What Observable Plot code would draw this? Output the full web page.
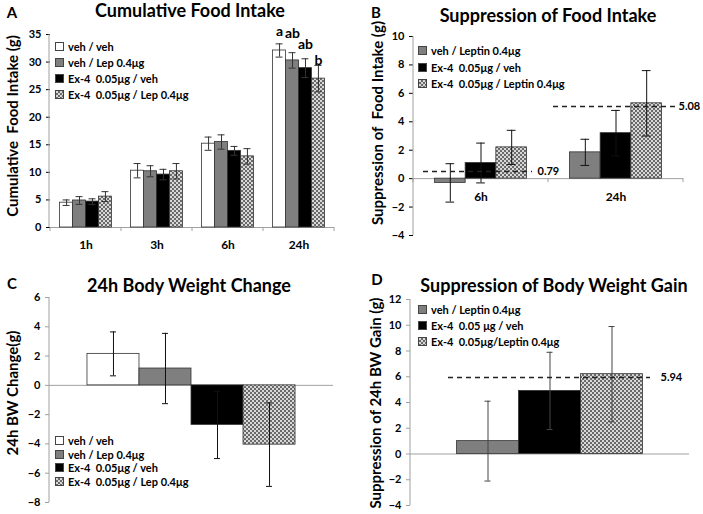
<!DOCTYPE html>
<html><head><meta charset="utf-8">
<script src="https://cdn.jsdelivr.net/npm/d3@7"></script>
<script src="https://cdn.jsdelivr.net/npm/@observablehq/plot@0.6"></script>
<style>
body{margin:0;background:#fff;}
#root{position:relative;width:703px;height:514px;overflow:hidden;font-family:Lato,"Open Sans",sans-serif;font-weight:bold;color:#000;background:#fff;}
.p{position:absolute;}
.p svg{overflow:visible;}
.t{position:absolute;white-space:pre;line-height:1;transform:translate(-50%,-50%);}
.yl{position:absolute;white-space:pre;line-height:1;transform:translate(-50%,-50%) rotate(-90deg);}
.row{position:absolute;white-space:pre;height:16px;line-height:16px;}
.sw{display:inline-block;width:7px;height:7px;border:1px solid #444;margin-right:4px;vertical-align:0px;}
</style></head>
<body>
<svg width="0" height="0" style="position:absolute"><defs>
<pattern id="chk" width="4" height="4" patternUnits="userSpaceOnUse"><rect width="4" height="4" fill="#d8d8d8"/><rect width="2" height="2" fill="#6a6a6a"/><rect x="2" y="2" width="2" height="2" fill="#6a6a6a"/></pattern>
</defs></svg>
<div id="root"></div>
<script>
// ---------- data ----------
const timesA = ["1h", "3h", "6h", "24h"];
const groupsA = ["veh / veh", "veh / Lep 0.4μg", "Ex-4  0.05μg / veh", "Ex-4  0.05μg / Lep 0.4μg"];
const meanA = [[4.5, 4.9, 4.7, 5.6], [10.3, 10.2, 9.6, 10.2], [15.2, 15.5, 13.9, 12.9], [32.1, 30.3, 28.9, 27.0]];
const semA = [[0.5, 0.7, 0.5, 0.9], [1.3, 1.0, 0.95, 1.4], [1.2, 1.3, 0.8, 1.4], [1.2, 1.4, 1.7, 2.4]];
const lettersA = ["a", "ab", "ab", "b"];
const letterYA = [35.6, 35.1, 33.2, 30.3];
const yTicksA = [0, 5, 10, 15, 20, 25, 30, 35];

const timesB = ["6h", "24h"];
const groupsB = ["veh / Leptin 0.4μg", "Ex-4  0.05μg / veh", "Ex-4  0.05μg / Leptin 0.4μg"];
const meanB = [[-0.3, 1.1, 2.2], [1.85, 3.2, 5.3]];
const semB = [[1.35, 1.4, 1.2], [0.92, 1.6, 2.3]];
const refPosB = [0.5, 5.08];
const refLabelB = ["0.79", "5.08"];
const yTicksB = [-4, -2, 0, 2, 4, 6, 8, 10];

const groupsC = ["veh / veh", "veh / Lep 0.4μg", "Ex-4  0.05μg / veh", "Ex-4  0.05μg / Lep 0.4μg"];
const meanC = [2.15, 1.15, -2.7, -4.05];
const semC = [1.5, 2.4, 2.3, 2.85];
const yTicksC = [-8, -6, -4, -2, 0, 2, 4, 6];

const groupsD = ["veh / Leptin 0.4μg", "Ex-4  0.05 μg / veh", "Ex-4  0.05μg/Leptin 0.4μg"];
const meanD = [1.0, 4.9, 6.2];
const semD = [3.1, 3.0, 3.7];
const refPosD = 5.94;
const refLabelD = "5.94";
const yTicksD = [-4, -2, 0, 2, 4, 6, 8, 10, 12];

const fills4 = ["white", "#7f7f7f", "black", "url(#chk)"];
const fills3 = ["#7f7f7f", "black", "url(#chk)"];
const swatch = {"white": "#fff", "#7f7f7f": "#7f7f7f", "black": "#000", "url(#chk)": "repeating-conic-gradient(#6a6a6a 0% 25%, #d8d8d8 0% 50%) 0 0/4px 4px"};

// ---------- tables ----------
const dataA = timesA.flatMap((t, i) => groupsA.map((g, j) => ({time: t, group: g, mean: meanA[i][j], sem: semA[i][j]})));
const letterData = groupsA.map((g, j) => ({time: "24h", group: g, letter: lettersA[j], ly: letterYA[j]}));
const dataB = timesB.flatMap((t, i) => groupsB.map((g, j) => ({time: t, group: g, mean: meanB[i][j], sem: semB[i][j]})));
const refB = timesB.map((t, i) => ({time: t, pos: refPosB[i], label: refLabelB[i]}));
const dataC = groupsC.map((g, j) => ({group: g, mean: meanC[j], sem: semC[j]}));
const dataD = groupsD.map((g, j) => ({group: g, mean: meanD[j], sem: semD[j]}));

const AXIS = "#a0a0a0";
const baseStyle = {fontFamily: "Lato, 'Open Sans', sans-serif", fontSize: "11px", fontWeight: "bold", color: "#000", background: "transparent", overflow: "visible"};
const root = document.getElementById("root");

function place(node, left, top) {
  const d = document.createElement("div");
  d.className = "p"; d.style.left = left + "px"; d.style.top = top + "px";
  d.appendChild(node); root.appendChild(d);
}
function text(cls, str, x, y, size) {
  const d = document.createElement("div");
  d.className = cls; d.textContent = str;
  d.style.left = x + "px"; d.style.top = y + "px"; d.style.fontSize = size + "px";
  root.appendChild(d);
}
function legend(x, y0, step, labels, fills, size) {
  labels.forEach((l, i) => {
    const r = document.createElement("div");
    r.className = "row"; r.style.left = x + "px"; r.style.top = (y0 + i * step - 8) + "px"; r.style.fontSize = size + "px";
    const s = document.createElement("span"); s.className = "sw"; s.style.background = swatch[fills[i]];
    r.appendChild(s); r.appendChild(document.createTextNode(l));
    root.appendChild(r);
  });
}
function finish(plot, ml, yDom, fxTicks) {
  const svg = d3.select(plot);
  const y = plot.scale("y");
  svg.selectAll('g[aria-label="y-axis tick"]').attr("stroke", AXIS);
  svg.append("line").attr("x1", ml).attr("x2", ml).attr("y1", y.apply(yDom[1])).attr("y2", y.apply(yDom[0])).attr("stroke", AXIS);
  if (fxTicks) {
    const fx = plot.scale("fx");
    const xs = fx.domain.map(d => fx.apply(d));
    xs.push(xs[xs.length - 1] + fx.bandwidth);
    const y0 = y.apply(fxTicks.at);
    xs.forEach(x => svg.append("line").attr("x1", x).attr("x2", x).attr("y1", y0).attr("y2", y0 + 4).attr("stroke", AXIS));
  }
  svg.selectAll('g[aria-label="fx-axis tick label"] text').style("font-size", "12px");
}

// ---------- Panel A ----------
const plotA = Plot.plot({
  width: 350, height: 260, marginLeft: 49, marginRight: 16, marginTop: 34, marginBottom: 33,
  style: baseStyle,
  fx: {domain: timesA, padding: 0, label: null, tickSize: 0, tickPadding: 13},
  x: {domain: groupsA, axis: null, paddingInner: 0, paddingOuter: 0.74, round: false},
  y: {domain: [0, 35], ticks: yTicksA, tickSize: 4, tickPadding: 5, label: null},
  color: {domain: groupsA, range: fills4},
  marks: [
    Plot.ruleY([0], {stroke: AXIS}),
    Plot.barY(dataA, {fx: "time", x: "group", y: "mean", fill: "group", stroke: "#333", strokeWidth: 0.8}),
    Plot.ruleX(dataA, {fx: "time", x: "group", y1: d => d.mean - d.sem, y2: d => d.mean + d.sem, stroke: "#333"}),
    Plot.tickY(dataA, {fx: "time", x: "group", y: d => d.mean + d.sem, stroke: "#333", insetLeft: 3, insetRight: 3}),
    Plot.tickY(dataA, {fx: "time", x: "group", y: d => d.mean - d.sem, stroke: "#333", insetLeft: 3, insetRight: 3}),
    Plot.text(letterData, {fx: "time", x: "group", y: "ly", text: "letter", fontSize: 14, fontWeight: "bold"})
  ]
});
finish(plotA, 49, [0, 35], {at: 0});
place(plotA, 0, 0);

// ---------- Panel B ----------
const plotB = Plot.plot({
  width: 353, height: 250, marginLeft: 63, marginRight: 20, marginTop: 36, marginBottom: 15,
  style: baseStyle,
  fx: {domain: timesB, padding: 0, axis: null},
  x: {domain: groupsB, axis: null, paddingInner: 0, paddingOuter: 0.7, round: false},
  y: {domain: [-4, 10], ticks: yTicksB, tickSize: 4, tickPadding: 5, label: null},
  color: {domain: groupsB, range: fills3},
  marks: [
    Plot.ruleY([0], {stroke: AXIS}),
    Plot.barY(dataB, {fx: "time", x: "group", y: "mean", fill: "group", stroke: "#333", strokeWidth: 0.8}),
    Plot.ruleX(dataB, {fx: "time", x: "group", y1: d => d.mean - d.sem, y2: d => d.mean + d.sem, stroke: "#111"}),
    Plot.tickY(dataB, {fx: "time", x: "group", y: d => d.mean + d.sem, stroke: "#111", insetLeft: 11, insetRight: 11}),
    Plot.tickY(dataB, {fx: "time", x: "group", y: d => d.mean - d.sem, stroke: "#111", insetLeft: 11, insetRight: 11}),
    Plot.text(timesB, {fx: d => d, y: () => 0, text: d => d, dy: 19, fontSize: 12, fontWeight: "bold"}),
    Plot.ruleY(refB.slice(0, 1), {fx: "time", y: "pos", stroke: "#222", strokeWidth: 1.6, strokeDasharray: "5,4", insetLeft: 10, insetRight: 16}),
    Plot.text(refB.slice(0, 1), {fx: "time", y: "pos", text: "label", frameAnchor: "right", textAnchor: "start", dx: -11, fontSize: 11, fontWeight: "bold"}),
    Plot.ruleY(refB.slice(1), {fx: "time", y: "pos", stroke: "#222", strokeWidth: 1.6, strokeDasharray: "5,4", insetLeft: 5, insetRight: 8}),
    Plot.text(refB.slice(1), {fx: "time", y: "pos", text: "label", frameAnchor: "right", textAnchor: "start", dx: -5, fontSize: 11, fontWeight: "bold"})
  ]
});
finish(plotB, 63, [-4, 10], {at: 0});
place(plotB, 350, 0);

// ---------- Panel C ----------
const plotC = Plot.plot({
  width: 350, height: 264, marginLeft: 49, marginRight: 17, marginTop: 47, marginBottom: 12,
  style: baseStyle,
  x: {domain: groupsC, axis: null, paddingInner: 0, paddingOuter: 0.73, round: false},
  y: {domain: [-8, 6], ticks: yTicksC, tickSize: 4, tickPadding: 5, label: null},
  color: {domain: groupsC, range: fills4},
  marks: [
    Plot.ruleY([0], {stroke: AXIS}),
    Plot.barY(dataC, {x: "group", y: "mean", fill: "group", stroke: "#333", strokeWidth: 0.8}),
    Plot.ruleX(dataC, {x: "group", y1: d => d.mean - d.sem, y2: d => d.mean + d.sem, stroke: "#111"}),
    Plot.tickY(dataC, {x: "group", y: d => d.mean + d.sem, stroke: "#111", insetLeft: 23, insetRight: 23}),
    Plot.tickY(dataC, {x: "group", y: d => d.mean - d.sem, stroke: "#111", insetLeft: 23, insetRight: 23})
  ]
});
finish(plotC, 49, [-8, 6], null);
place(plotC, 0, 250);

// ---------- Panel D ----------
const plotD = Plot.plot({
  width: 353, height: 264, marginLeft: 60, marginRight: 14, marginTop: 49, marginBottom: 9,
  style: baseStyle,
  x: {domain: groupsD, axis: null, paddingInner: 0, paddingOuter: 0.75, round: false},
  y: {domain: [-4, 12], ticks: yTicksD, tickSize: 4, tickPadding: 5, label: null},
  color: {domain: groupsD, range: fills3},
  marks: [
    Plot.ruleY([0], {stroke: AXIS}),
    Plot.barY(dataD, {x: "group", y: "mean", fill: "group", stroke: "#333", strokeWidth: 0.8}),
    Plot.ruleX(dataD, {x: "group", y1: d => d.mean - d.sem, y2: d => d.mean + d.sem, stroke: "#444"}),
    Plot.tickY(dataD, {x: "group", y: d => d.mean + d.sem, stroke: "#444", insetLeft: 28, insetRight: 28}),
    Plot.tickY(dataD, {x: "group", y: d => d.mean - d.sem, stroke: "#444", insetLeft: 28, insetRight: 28}),
    Plot.ruleY([refPosD], {stroke: "#222", strokeWidth: 1.6, strokeDasharray: "5,4", insetLeft: 38, insetRight: 39}),
    Plot.text([refLabelD], {y: () => refPosD, text: d => d, frameAnchor: "right", textAnchor: "start", dx: -29, fontSize: 11, fontWeight: "bold"})
  ]
});
finish(plotD, 60, [-4, 12], null);
place(plotD, 350, 250);

// ---------- titles, axis labels, legends ----------
text("t", "A", 12, 12, 15);
text("t", "Cumulative Food Intake", 190, 10, 18);
text("t", "B", 376, 12, 15);
text("t", "Suppression of Food Intake", 548, 15, 18);
text("t", "C", 12, 283, 15);
text("t", "24h Body Weight Change", 189, 285, 18);
text("t", "D", 377, 279, 15);
text("t", "Suppression of Body Weight Gain", 554, 285, 18);

text("yl", "Cumulative  Food Intake (g)", 12, 126, 15);
text("yl", "Suppression of  Food Intake (g)", 377, 123, 15);
text("yl", "24h BW Change(g)", 12, 393, 15);
text("yl", "Suppression of 24h BW Gain (g)", 375, 403, 15);

legend(55, 47, 16, groupsA, fills4, 11);
legend(418, 51, 16.5, groupsB, fills3, 11);
legend(55, 441, 13.7, groupsC, fills4, 11);
legend(418, 310, 16, groupsD, fills3, 11);
</script>
</body></html>
